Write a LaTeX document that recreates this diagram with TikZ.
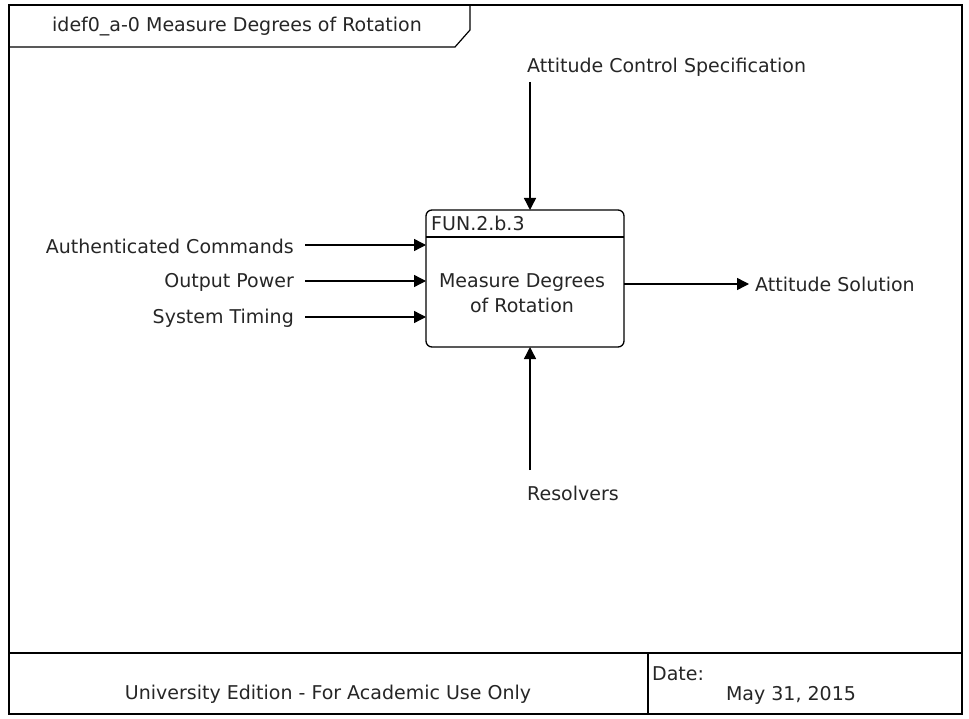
\documentclass[tikz,border=0pt]{standalone}
\usepackage{fontspec}
\setmainfont{DejaVu Sans}
\usetikzlibrary{arrows.meta}
\begin{document}
\begin{tikzpicture}[x=1pt,y=-1pt,
  lbl/.style={font=\fontsize{19}{22}\selectfont, text=black!85, inner sep=0pt},
  flow/.style={line width=1.4pt, -{Triangle[length=12pt,width=12pt]}},
  frame/.style={line width=1.8pt}]
\useasboundingbox (0,0) rectangle (969,719);
\fill[white] (0,0) rectangle (969,719);
% outer frame
\draw[frame] (9,5) rectangle (962,714);
\draw[line width=2.4pt] (9,653) -- (962,653);
\draw[line width=1.8pt] (648,653) -- (648,714);
% title tab
\draw[line width=1.2pt] (9,47) -- (455,47) -- (470,30) -- (470,5);
\node[lbl, anchor=center] (title) at (237,27) {idef0\_a-0 Measure Degrees of Rotation};
% function box
\draw[line width=1.3pt, rounded corners=6pt] (426,210) rectangle (624,347);
\draw[line width=1.3pt] (426,237) -- (624,237);
\node[lbl, anchor=west] (fid) at (431,223) {FUN.2.b.3};
\node[lbl, align=center, anchor=center] (fname) at (522,293) {Measure Degrees\\[3pt]of Rotation};
% control
\node[lbl, anchor=west] (ctrl) at (527,67) {Attitude Control Specification};
\coordinate (ctrlEnd) at (530,210);
\draw[flow] (530,82) -- (ctrlEnd);
% inputs
\node[lbl, anchor=east] (in1) at (294,246) {Authenticated Commands};
\node[lbl, anchor=east] (in2) at (294,282) {Output Power};
\node[lbl, anchor=east] (in3) at (294,318) {System Timing};
\coordinate (in1e) at (426,245);
\coordinate (in2e) at (426,281);
\coordinate (in3e) at (426,317);
\draw[flow] (305,245) -- (in1e);
\draw[flow] (305,281) -- (in2e);
\draw[flow] (305,317) -- (in3e);
% output
\node[lbl, anchor=west] (out) at (755,284) {Attitude Solution};
\draw[flow] (624,284) -- ([xshift=-6pt]out.west);
% mechanism
\node[lbl, anchor=west] (mech) at (527,493) {Resolvers};
\coordinate (mechEnd) at (530,347);
\draw[flow] (530,470) -- (mechEnd);
% footer
\node[lbl, anchor=center] (foot) at (328,694) {University Edition - For Academic Use Only};
\node[lbl, anchor=west] (date) at (652,674) {Date:};
\node[lbl, anchor=center] (dval) at (791,695) {May 31, 2015};
\end{tikzpicture}
\end{document}
